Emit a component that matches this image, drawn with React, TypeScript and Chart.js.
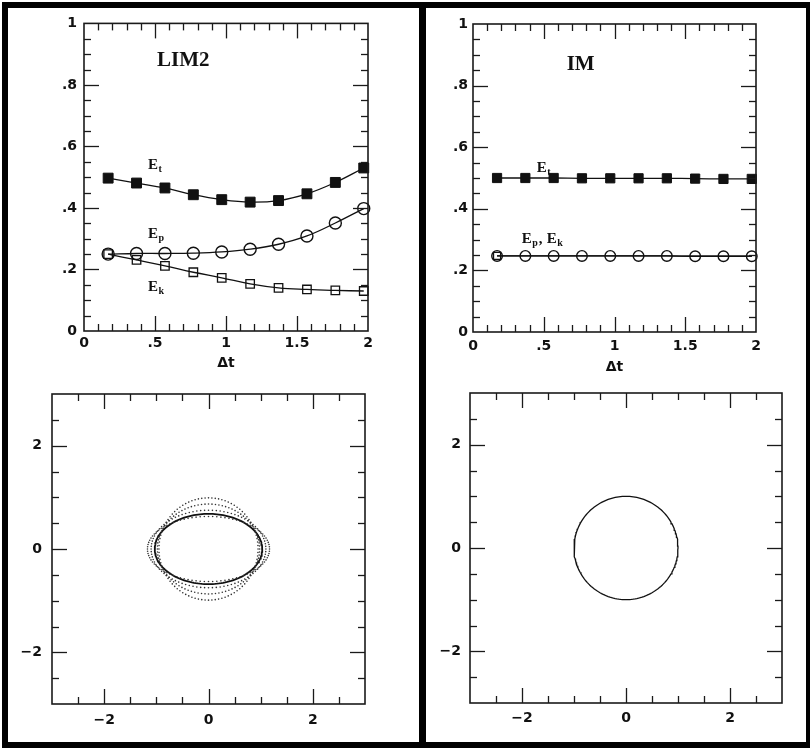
import React, { useEffect, useRef } from "react";
import { Chart, registerables } from "chart.js";

Chart.register(...registerables);

// ---------------- data ----------------
const DT = [0.17, 0.37, 0.57, 0.77, 0.97, 1.17, 1.37, 1.57, 1.77, 1.97];

const LIM2_ET = [0.497, 0.481, 0.465, 0.443, 0.427, 0.419, 0.424, 0.446, 0.483, 0.53];
const LIM2_EP = [0.25, 0.252, 0.252, 0.253, 0.257, 0.266, 0.282, 0.309, 0.351, 0.398];
const LIM2_EK = [0.25, 0.231, 0.212, 0.191, 0.173, 0.153, 0.14, 0.135, 0.132, 0.13];

const IM_ET = [0.5, 0.5, 0.5, 0.499, 0.499, 0.499, 0.499, 0.498, 0.497, 0.497];
const IM_EP = [0.247, 0.247, 0.247, 0.247, 0.247, 0.247, 0.247, 0.246, 0.246, 0.246];
const IM_EK = [0.247, 0.247, 0.247, 0.247, 0.247, 0.247, 0.247, 0.246, 0.246, 0.246];

const ENERGY_X_TICKS = [0, 0.5, 1, 1.5, 2];
const ENERGY_Y_TICKS = [0, 0.2, 0.4, 0.6, 0.8, 1];
const ORBIT_TICKS = [-2, 0, 2];

// LIM2 orbits: solid ellipse semi-axes and dotted ellipse semi-axes
const LIM2_SOLID_A = [1.03];
const LIM2_SOLID_B = [0.68];
const LIM2_DOTTED_A = [1.17, 1.1, 0.98, 0.95];
const LIM2_DOTTED_B = [0.63, 0.75, 0.87, 0.99];

// IM orbit: unit circle
const IM_RADIUS = [1];

// ---------------- helpers ----------------
const TICK_FONT = { family: "'DejaVu Sans', sans-serif", size: 14, weight: "bold" as const };
const SERIF = "'Liberation Serif', 'DejaVu Serif', serif";

function fmtFrac(v: number): string {
  const r = Math.round(v * 10) / 10;
  if (r === 0) return "0";
  let s = String(r);
  if (s.startsWith("0.")) s = s.slice(1);
  return s;
}
function fmtSigned(v: number): string {
  if (v < 0) return "\u2212" + String(Math.abs(v));
  return String(v);
}

function ellipse(a: number, b: number, n: number, close: boolean) {
  const pts: { x: number; y: number }[] = [];
  const m = close ? n + 1 : n;
  for (let i = 0; i < m; i++) {
    const t = (2 * Math.PI * i) / n;
    pts.push({ x: a * Math.cos(t), y: b * Math.sin(t) });
  }
  return pts;
}

const frameTicksPlugin = {
  id: "frameTicks",
  afterDraw(chart: any, _args: any, opts: any) {
    const { ctx, chartArea: a, scales } = chart;
    const xs = scales.x;
    const ys = scales.y;
    ctx.save();
    ctx.strokeStyle = "#1a1a1a";
    ctx.lineWidth = 1.3;
    const isMajor = (v: number, step: number) => Math.abs(v / step - Math.round(v / step)) < 1e-6;
    const seg = (x1: number, y1: number, x2: number, y2: number) => {
      ctx.beginPath();
      ctx.moveTo(x1, y1);
      ctx.lineTo(x2, y2);
      ctx.stroke();
    };
    const nx = Math.round((xs.max - xs.min) / opts.xMinor);
    for (let i = 1; i < nx; i++) {
      const v = xs.min + i * opts.xMinor;
      const px = Math.round(xs.getPixelForValue(v)) + 0.5;
      const len = isMajor(v, opts.xMajor) ? opts.majorLen : opts.minorLen;
      seg(px, a.bottom, px, a.bottom - len);
      seg(px, a.top, px, a.top + len);
    }
    const ny = Math.round((ys.max - ys.min) / opts.yMinor);
    for (let i = 1; i < ny; i++) {
      const v = ys.min + i * opts.yMinor;
      const py = Math.round(ys.getPixelForValue(v)) + 0.5;
      const len = isMajor(v, opts.yMajor) ? opts.majorLen : opts.minorLen;
      seg(a.left, py, a.left + len, py);
      seg(a.right, py, a.right - len, py);
    }
    ctx.lineWidth = 1.6;
    ctx.strokeRect(a.left, a.top, a.right - a.left, a.bottom - a.top);

    // text labels
    ctx.fillStyle = "#111";
    ctx.textBaseline = "alphabetic";
    ctx.textAlign = "left";
    for (const l of opts.labels || []) {
      let px = xs.getPixelForValue(l.x);
      const py = ys.getPixelForValue(l.y);
      for (const p of l.parts) {
        ctx.font = p.sub ? `bold ${l.subSize}px ${SERIF}` : `bold ${l.size}px ${SERIF}`;
        ctx.fillText(p.t, px, py + (p.sub ? 3 : 0));
        px += ctx.measureText(p.t).width + (p.sub ? 1 : 0.5);
      }
    }
    if (opts.xTitle) {
      ctx.font = `bold 14px 'DejaVu Sans', sans-serif`;
      ctx.textAlign = "center";
      ctx.textBaseline = "middle";
      ctx.fillText(opts.xTitle, (a.left + a.right) / 2, a.bottom + opts.xTitleOffset);
    }
    ctx.restore();
  },
};

function axis(min: number, max: number, ticks: number[], fmt: (v: number) => string, pad: number, size: number, horizontal: boolean) {
  return {
    type: "linear" as const,
    min,
    max,
    grid: { display: false, drawTicks: false },
    border: { display: false },
    ticks: {
      color: "#111",
      font: TICK_FONT,
      padding: pad,
      maxRotation: 0,
      autoSkip: false,
      callback: (v: any) => fmt(Number(v)),
    },
    afterBuildTicks: (s: any) => {
      s.ticks = ticks.map((v) => ({ value: v }));
    },
    afterFit: (s: any) => {
      if (horizontal) s.height = size;
      else s.width = size;
    },
  };
}

function energyConfig(et: number[], ep: number[], ek: number[], ekRadius: number[], geom: any, labels: any[], mk: any) {
  const pts = (arr: number[]) => DT.map((x, i) => ({ x, y: arr[i] }));
  return {
    type: "scatter" as const,
    data: {
      datasets: [
        {
          data: pts(et),
          showLine: true,
          tension: 0.4,
          borderColor: "#111",
          borderWidth: 1.3,
          pointStyle: "rect",
          pointRadius: mk.fill,
          pointBackgroundColor: "#111",
          pointBorderColor: "#111",
          pointBorderWidth: 1,
          clip: false,
        },
        {
          data: pts(ep),
          showLine: true,
          tension: 0.4,
          borderColor: "#111",
          borderWidth: 1.3,
          pointStyle: "circle",
          pointRadius: mk.circle,
          pointBackgroundColor: "rgba(0,0,0,0)",
          pointBorderColor: "#111",
          pointBorderWidth: 1.4,
          clip: false,
        },
        {
          data: pts(ek),
          showLine: true,
          tension: 0.4,
          borderColor: "#111",
          borderWidth: 1.3,
          pointStyle: "rect",
          pointRadius: ekRadius,
          pointBackgroundColor: "rgba(0,0,0,0)",
          pointBorderColor: "#111",
          pointBorderWidth: 1.3,
          clip: false,
        },
      ],
    },
    options: {
      animation: false as const,
      responsive: false,
      devicePixelRatio: 1,
      events: [],
      layout: { padding: { top: geom.padTop, right: geom.padRight, left: 0, bottom: 0 } },
      plugins: {
        legend: { display: false },
        tooltip: { enabled: false },
        frameTicks: {
          xMinor: 0.1,
          xMajor: 0.5,
          yMinor: 0.05,
          yMajor: 0.2,
          minorLen: 7,
          majorLen: 15,
          labels,
          xTitle: "\u0394t",
          xTitleOffset: geom.titleOff,
        },
      },
      scales: {
        x: axis(0, 2, ENERGY_X_TICKS, fmtFrac, geom.xPad, geom.xH, true),
        y: axis(0, 1, ENERGY_Y_TICKS, fmtFrac, geom.yPad, geom.yW, false),
      },
    },
    plugins: [frameTicksPlugin],
  };
}

function orbitConfig(datasets: any[], geom: any) {
  return {
    type: "scatter" as const,
    data: { datasets },
    options: {
      animation: false as const,
      responsive: false,
      devicePixelRatio: 1,
      events: [],
      layout: { padding: { top: geom.padTop, right: geom.padRight, left: 0, bottom: 0 } },
      plugins: {
        legend: { display: false },
        tooltip: { enabled: false },
        frameTicks: { xMinor: 0.5, xMajor: 2, yMinor: 0.5, yMajor: 2, minorLen: 7, majorLen: 15, labels: [] },
      },
      scales: {
        x: axis(-3, 3, ORBIT_TICKS, fmtSigned, geom.xPad, geom.xH, true),
        y: axis(-3, 3, ORBIT_TICKS, fmtSigned, geom.yPad, geom.yW, false),
      },
    },
    plugins: [frameTicksPlugin],
  };
}

function Panel({ left, top, width, height, config }: any) {
  const ref = useRef<HTMLCanvasElement | null>(null);
  useEffect(() => {
    if (!ref.current) return;
    const c = new Chart(ref.current, config);
    return () => c.destroy();
  }, [config]);
  return (
    <canvas
      ref={ref}
      width={width}
      height={height}
      style={{ position: "absolute", left, top, width, height, display: "block" }}
    />
  );
}

const E = (sub: string) => [{ t: "E" }, { t: sub, sub: true }];

const lim2Labels = [
  { x: 0.514, y: 0.861, size: 21, subSize: 12, parts: [{ t: "LIM2" }] },
  { x: 0.45, y: 0.527, size: 15, subSize: 10, parts: E("t") },
  { x: 0.45, y: 0.302, size: 15, subSize: 10, parts: E("p") },
  { x: 0.45, y: 0.129, size: 15, subSize: 10, parts: E("k") },
];
const imLabels = [
  { x: 0.662, y: 0.851, size: 21, subSize: 12, parts: [{ t: "IM" }] },
  { x: 0.45, y: 0.52, size: 15, subSize: 10, parts: E("t") },
  { x: 0.344, y: 0.29, size: 15, subSize: 10, parts: [...E("p"), { t: ", " }, ...E("k")] },
];

const configTL = energyConfig(
  LIM2_ET,
  LIM2_EP,
  LIM2_EK,
  DT.map(() => 6),
  { padTop: 12, padRight: 51, xH: 44, yW: 76, xPad: 4, yPad: 7, titleOff: 32 },
  lim2Labels,
  { fill: 7, circle: 6 }
);
const configTR = energyConfig(
  IM_ET,
  IM_EP,
  IM_EK,
  DT.map((_, i) => (i === 0 ? 5 : 0)),
  { padTop: 16, padRight: 50, xH: 43, yW: 47, xPad: 6, yPad: 5, titleOff: 35 },
  imLabels,
  { fill: 6.5, circle: 5.3 }
);

const lim2OrbitDatasets = [
  ...LIM2_DOTTED_A.map((a, i) => ({
    data: ellipse(a, LIM2_DOTTED_B[i], 92, false),
    showLine: false,
    pointRadius: 0.8,
    pointBorderWidth: 0,
    pointBackgroundColor: "#333",
  })),
  ...LIM2_SOLID_A.map((a, i) => ({
    data: ellipse(a, LIM2_SOLID_B[i], 160, true),
    showLine: true,
    tension: 0,
    borderColor: "#111",
    borderWidth: 1.8,
    pointRadius: 0,
  })),
];
const imOrbitDatasets = IM_RADIUS.map((r) => ({
  data: ellipse(r, r, 180, true),
  showLine: true,
  tension: 0,
  borderColor: "#111",
  borderWidth: 1.3,
  pointRadius: 0,
}));

const configBL = orbitConfig(lim2OrbitDatasets, { padTop: 19, padRight: 54, xH: 38, yW: 44, xPad: 8, yPad: 10 });
const configBR = orbitConfig(imOrbitDatasets, { padTop: 18, padRight: 24, xH: 39, yW: 44, xPad: 7, yPad: 9 });

const bar = (left: number, top: number, width: number, height: number) => (
  <div style={{ position: "absolute", left, top, width, height, background: "#000" }} />
);

export default function App() {
  return (
    <div style={{ position: "fixed", left: 0, top: 0, width: 810, height: 748, background: "#fff", overflow: "hidden" }}>
      <Panel left={8} top={8} width={411} height={367} config={configTL} />
      <Panel left={426} top={8} width={380} height={367} config={configTR} />
      <Panel left={8} top={375} width={411} height={367} config={configBL} />
      <Panel left={426} top={375} width={380} height={367} config={configBR} />
      {bar(2, 2, 808, 6)}
      {bar(2, 2, 6, 746)}
      {bar(2, 742, 808, 6)}
      {bar(806, 2, 4, 746)}
      {bar(419, 2, 7, 746)}
    </div>
  );
}
